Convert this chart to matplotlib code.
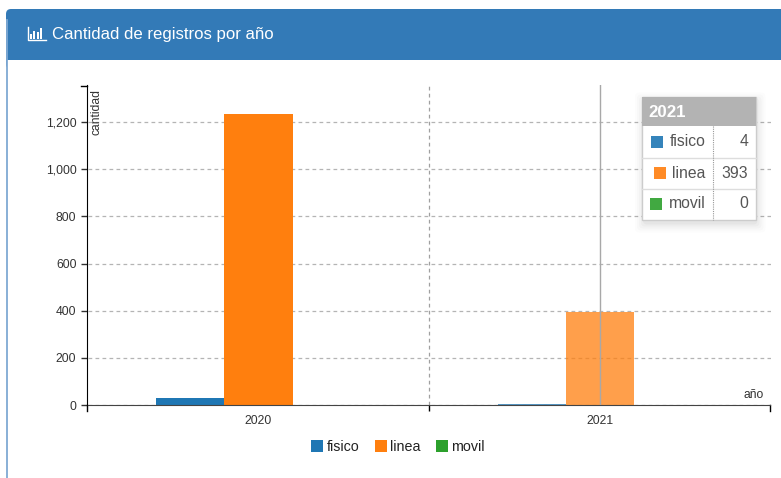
import matplotlib
matplotlib.use('Agg')
import matplotlib.pyplot as plt
from matplotlib.patches import Rectangle, FancyBboxPatch

# Datos
anios = ['2020', '2021']
fisico = [30, 4]
linea = [1234, 393]
movil = [0, 0]
series_nombres = ['fisico', 'linea', 'movil']
y_ticks = [0, 200, 400, 600, 800, 1000, 1200]
titulo = 'Cantidad de registros por año'

azul = '#1f77b4'
naranja = '#ff7f0e'
verde = '#2ca02c'
colores = [azul, naranja, verde]

W, H = 781, 478
plt.rcParams['font.family'] = ['Liberation Sans', 'DejaVu Sans']
fig = plt.figure(figsize=(W / 100, H / 100), dpi=100)

# Capa de fondo en pixeles: panel y cabecera
bg = fig.add_axes([0, 0, 1, 1], zorder=0)
bg.set_xlim(0, W)
bg.set_ylim(H, 0)
bg.axis('off')
bg.plot([6.5, 6.5], [20, H], color='#7fa9d3', lw=1.3)
bg.add_patch(FancyBboxPatch((6, 9), W + 20, 60, boxstyle='round,pad=0,rounding_size=5',
                            fc='#337ab7', ec='none'))
bg.add_patch(Rectangle((7, 59.5), W, 20, fc='white', ec='none'))
bg.text(52, 34.5, titulo, color='white', fontsize=12.1, va='center', ha='left')
# icono de barras
for x0, y0 in [(29.5, 33.5), (33, 30.5), (36.5, 32), (40, 28)]:
    bg.add_patch(Rectangle((x0, y0), 2.4, 39 - y0, fc='white', ec='none'))
bg.plot([27.5, 27.5, 45.5], [27, 40, 40], color='white', lw=1)

# Grafico principal
left, right, top, bottom = 87.5, 771, 85, 405
ax = fig.add_axes([left / W, 1 - bottom / H, (right - left) / W, (bottom - top) / H], zorder=1)
ax.patch.set_alpha(0)
ax.set_xlim(-0.5, 1.5)
ax.set_ylim(0, 1357)
ax.set_axisbelow(True)

ancho = 0.2
for i, (vals, col) in enumerate(zip([fisico, linea, movil], colores)):
    for j, v in enumerate(vals):
        ax.bar(j + (i - 1) * ancho, v, ancho, color=col, alpha=1 if j == 0 else 0.75,
               edgecolor='none', zorder=2)

ax.set_yticks(y_ticks)
ax.set_yticklabels([f'{v:,}' for v in y_ticks])
ax.set_xticks([0.5])
ax.set_xticklabels([])
ax.set_xticks([0, 1], labels=anios, minor=True)
ax.tick_params(axis='x', which='major', length=4.3, width=1, color='black')
ax.tick_params(axis='x', which='minor', length=0, pad=7, labelsize=8.7, labelcolor='#333333')
ax.tick_params(axis='y', length=4.3, width=1, color='#333333', pad=3, labelsize=8.7, labelcolor='#333333')
ax.grid(axis='y', color='#b4b4b4', ls=(0, (3, 2.6)), lw=0.9, zorder=1)
ax.axvline(0.5, color='#a0a0a0', ls=(0, (3, 2.6)), lw=0.9, zorder=1)
ax.axvline(1, color='#a8a8a8', lw=1, zorder=3)
ax.spines['top'].set_visible(False)
ax.spines['right'].set_visible(False)
ax.spines['left'].set_color('black')
ax.spines['left'].set_position(('outward', 0.7))
ax.spines['bottom'].set_color('#444444')
ax.spines['bottom'].set_bounds(-0.5, 1.5 - 1 / 341.75)

# marcas exteriores de los extremos del eje
ax.plot([86.5, 86.5], [405, 411], color='black', lw=1, transform=bg.transData, clip_on=False)
ax.plot([770, 770], [405, 411], color='black', lw=1, transform=bg.transData, clip_on=False)
ax.plot([80.5, 86.5], [85.5, 85.5], color='black', lw=1, transform=bg.transData, clip_on=False)

ax.text(97, 89, 'cantidad', transform=bg.transData, rotation=90, ha='center', va='top',
        fontsize=8.7, color='#333333', zorder=5)
ax.text(764, 395, 'año', transform=bg.transData, ha='right', va='center',
        fontsize=8.7, color='#333333', zorder=5)

# Leyenda
handles = [Rectangle((0, 0), 1, 1, fc=c, ec='none') for c in colores]
fig.legend(handles, series_nombres, loc='center', bbox_to_anchor=(398 / W, 1 - 447 / H), ncol=3,
           frameon=False, fontsize=10.3, handlelength=0.85, handleheight=0.85, handletextpad=0.25,
           columnspacing=1.05, labelcolor='#222222')

# Tooltip
tip = fig.add_axes([0, 0, 1, 1], zorder=5)
tip.set_xlim(0, W)
tip.set_ylim(H, 0)
tip.axis('off')
tx0, tx1, ty0, ty1 = 642, 755.5, 96.5, 219.5
for g, a in [(10, 0.012), (8, 0.016), (6, 0.02), (4, 0.025), (2, 0.03)]:
    tip.add_patch(FancyBboxPatch((tx0 - g + 3, ty0 - g + 6), tx1 - tx0 + 2 * g - 3, ty1 - ty0 + 2 * g - 3,
                                 boxstyle='round,pad=0,rounding_size=4', fc='black', ec='none', alpha=a))
tip.add_patch(Rectangle((tx0, ty0), tx1 - tx0, ty1 - ty0, fc='white', ec='#cccccc', lw=1))
tip.add_patch(Rectangle((tx0, ty0), tx1 - tx0, 29.5, fc='#b3b3b3', ec='none'))
tip.text(648.5, 112, anios[1], color='white', fontsize=12.2, fontweight='bold', va='center')
filas_y = [142, 173, 204]
valores_2021 = [fisico[1], linea[1], movil[1]]
x_cuadros = [651, 653.5, 649.5]
for k, (nom, val, col) in enumerate(zip(series_nombres, valores_2021, colores)):
    y = filas_y[k]
    if k > 0:
        tip.plot([tx0, tx1], [y - 15.5, y - 15.5], color='#dddddd', lw=1)
    tip.text(705.5, y, nom, color='#555555', fontsize=11.3, ha='right', va='center')
    tip.text(748, y, str(val), color='#555555', fontsize=11.3, ha='right', va='center')
    tip.add_patch(Rectangle((x_cuadros[k], y - 6), 12, 12, fc=col, ec='none', alpha=0.9))
tip.plot([713, 713], [ty0 + 29.5, ty1], color='#999999', lw=0.8, ls=(0, (1, 1)))

fig.savefig('out.png', dpi=100)
